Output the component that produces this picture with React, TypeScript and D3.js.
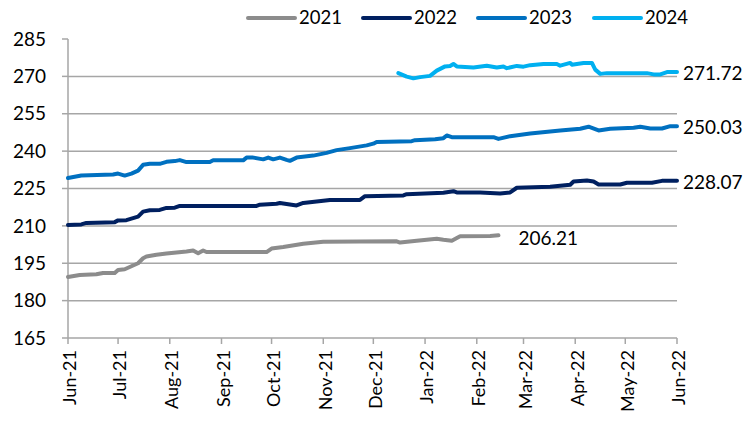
import React from "react";
import * as d3 from "d3";

const seriesNames = ["2021", "2022", "2023", "2024"];
const seriesColors = ["#8c8c8c", "#002060", "#0070c0", "#00b0f0"];

const s2021: [string, number][] = [
  ["2021-06-01", 189.5], ["2021-06-08", 190.3], ["2021-06-18", 190.6], ["2021-06-22", 191.1],
  ["2021-06-29", 191.1], ["2021-07-01", 192.3], ["2021-07-05", 192.6], ["2021-07-09", 193.8],
  ["2021-07-13", 195.0], ["2021-07-16", 197.0], ["2021-07-18", 197.7], ["2021-07-24", 198.4],
  ["2021-07-30", 198.9], ["2021-08-11", 199.7], ["2021-08-15", 200.1], ["2021-08-18", 199.0],
  ["2021-08-21", 200.1], ["2021-08-23", 199.5], ["2021-09-28", 199.5], ["2021-10-01", 200.9],
  ["2021-10-08", 201.5], ["2021-10-20", 202.8], ["2021-11-01", 203.6], ["2021-12-15", 203.8],
  ["2021-12-17", 203.3], ["2021-12-27", 204.0], ["2022-01-08", 204.8], ["2022-01-12", 204.4],
  ["2022-01-17", 204.0], ["2022-01-22", 205.8], ["2022-02-09", 205.9], ["2022-02-14", 206.21],
];

const s2022: [string, number][] = [
  ["2021-06-01", 210.4], ["2021-06-09", 210.6], ["2021-06-12", 211.2], ["2021-06-29", 211.5],
  ["2021-07-01", 212.2], ["2021-07-06", 212.3], ["2021-07-09", 212.9], ["2021-07-13", 213.7],
  ["2021-07-16", 215.7], ["2021-07-20", 216.3], ["2021-07-26", 216.4], ["2021-07-30", 217.2],
  ["2021-08-04", 217.3], ["2021-08-07", 218.0], ["2021-09-22", 218.0], ["2021-09-24", 218.5],
  ["2021-10-04", 218.9], ["2021-10-06", 219.2], ["2021-10-12", 218.6], ["2021-10-16", 218.2],
  ["2021-10-20", 219.2], ["2021-11-05", 220.4], ["2021-11-23", 220.4], ["2021-11-26", 221.9],
  ["2021-12-19", 222.2], ["2021-12-21", 222.7], ["2022-01-12", 223.3], ["2022-01-18", 223.9],
  ["2022-01-20", 223.4], ["2022-02-03", 223.4], ["2022-02-15", 223.0], ["2022-02-21", 223.4],
  ["2022-02-25", 225.3], ["2022-03-17", 225.7], ["2022-03-23", 226.1], ["2022-03-29", 226.5],
  ["2022-03-31", 227.8], ["2022-04-08", 228.2], ["2022-04-12", 227.8], ["2022-04-15", 226.6],
  ["2022-04-28", 226.6], ["2022-05-02", 227.3], ["2022-05-17", 227.3], ["2022-05-23", 228.07],
  ["2022-06-01", 228.07],
];

const s2023: [string, number][] = [
  ["2021-06-01", 229.2], ["2021-06-09", 230.2], ["2021-06-28", 230.6], ["2021-07-01", 231.0],
  ["2021-07-05", 230.2], ["2021-07-09", 231.0], ["2021-07-13", 232.2], ["2021-07-16", 234.5],
  ["2021-07-20", 234.9], ["2021-07-26", 234.9], ["2021-07-30", 235.7], ["2021-08-04", 236.0],
  ["2021-08-07", 236.4], ["2021-08-11", 235.6], ["2021-08-25", 235.6], ["2021-08-27", 236.3],
  ["2021-09-14", 236.3], ["2021-09-16", 237.4], ["2021-09-20", 237.4], ["2021-09-26", 236.7],
  ["2021-09-29", 237.4], ["2021-10-02", 236.7], ["2021-10-06", 237.4], ["2021-10-10", 236.5],
  ["2021-10-12", 236.1], ["2021-10-16", 237.4], ["2021-10-26", 238.2], ["2021-11-03", 239.3],
  ["2021-11-09", 240.4], ["2021-11-17", 241.2], ["2021-11-27", 242.3], ["2021-12-01", 243.0],
  ["2021-12-03", 243.7], ["2021-12-24", 244.0], ["2021-12-26", 244.4], ["2022-01-07", 244.8],
  ["2022-01-12", 245.2], ["2022-01-14", 246.3], ["2022-01-17", 245.6], ["2022-02-11", 245.6],
  ["2022-02-14", 244.9], ["2022-02-21", 246.0], ["2022-03-05", 247.1], ["2022-03-23", 248.3],
  ["2022-04-04", 249.0], ["2022-04-09", 249.8], ["2022-04-15", 248.3], ["2022-04-22", 249.0],
  ["2022-05-06", 249.4], ["2022-05-10", 249.8], ["2022-05-16", 249.1], ["2022-05-23", 249.1],
  ["2022-05-28", 250.03], ["2022-06-01", 250.03],
];

const s2024: [string, number][] = [
  ["2021-12-16", 271.3], ["2021-12-21", 269.9], ["2021-12-25", 269.2], ["2021-12-29", 269.7],
  ["2022-01-04", 270.2], ["2022-01-08", 272.3], ["2022-01-13", 274.0], ["2022-01-16", 274.2],
  ["2022-01-18", 275.0], ["2022-01-20", 274.0], ["2022-01-30", 273.6], ["2022-02-07", 274.3],
  ["2022-02-13", 273.6], ["2022-02-17", 274.0], ["2022-02-19", 273.3], ["2022-02-25", 274.2],
  ["2022-03-01", 273.9], ["2022-03-05", 274.5], ["2022-03-13", 275.0], ["2022-03-21", 275.0],
  ["2022-03-23", 274.3], ["2022-03-29", 275.4], ["2022-03-30", 274.7], ["2022-04-06", 275.4],
  ["2022-04-11", 275.4], ["2022-04-13", 272.7], ["2022-04-16", 271.0], ["2022-04-20", 271.3],
  ["2022-05-14", 271.3], ["2022-05-18", 270.8], ["2022-05-22", 270.8], ["2022-05-26", 271.72],
  ["2022-06-01", 271.72],
];

const allSeries = [s2021, s2022, s2023, s2024];
const endLabels = ["206.21", "228.07", "250.03", "271.72"];

const yTicks = [165, 180, 195, 210, 225, 240, 255, 270, 285];
const xTickDates = [
  "2021-06-01", "2021-07-01", "2021-08-01", "2021-09-01", "2021-10-01", "2021-11-01",
  "2021-12-01", "2022-01-01", "2022-02-01", "2022-03-01", "2022-04-01", "2022-05-01", "2022-06-01",
];

const W = 753;
const H = 422;
const FONT = "Lato, 'Open Sans', 'DejaVu Sans', sans-serif";

export default function App() {
  const parse = d3.utcParse("%Y-%m-%d");
  const x = d3
    .scaleUtc()
    .domain([parse("2021-06-01")!, parse("2022-06-01")!])
    .range([68, 677]);
  const y = d3.scaleLinear().domain([165, 285]).range([338, 39]);
  const fmt = d3.utcFormat("%b-%y");

  const line = d3
    .line<[string, number]>()
    .x((d) => x(parse(d[0])!))
    .y((d) => y(d[1]));

  const legendX = [248, 363, 478, 594];

  return (
    <svg
      width={W}
      height={H}
      style={{ position: "absolute", left: 0, top: 0, background: "#fff" }}
      fontFamily={FONT}
    >
      {yTicks
        .filter((t) => t !== 165 && t !== 285)
        .map((t) => (
          <line key={"g" + t} x1={68} x2={677} y1={y(t)} y2={y(t)} stroke="#a6a6a6" strokeWidth={1.5} />
        ))}
      <line x1={68} x2={68} y1={y(285)} y2={y(165)} stroke="#a6a6a6" strokeWidth={1.5} />
      {yTicks.map((t) => (
        <g key={"yt" + t}>
          <line x1={62} x2={68} y1={y(t)} y2={y(t)} stroke="#a6a6a6" strokeWidth={1.5} />
          <text x={46} y={y(t)} dy="0.35em" textAnchor="end" fontSize={19} fill="#000">
            {t}
          </text>
        </g>
      ))}
      <line x1={68} x2={677} y1={y(165)} y2={y(165)} stroke="#a6a6a6" strokeWidth={1.5} />
      {xTickDates.map((ds) => {
        const d = parse(ds)!;
        const xx = x(d);
        return (
          <g key={"xt" + ds}>
            <line x1={xx} x2={xx} y1={338} y2={344} stroke="#a6a6a6" strokeWidth={1.5} />
            <text
              transform={`translate(${xx + 2},350) rotate(-90)`}
              dy="0.35em"
              textAnchor="end"
              fontSize={18}
              fill="#000"
            >
              {fmt(d)}
            </text>
          </g>
        );
      })}
      {allSeries.map((s, i) => (
        <path
          key={"s" + i}
          d={line(s) || ""}
          fill="none"
          stroke={seriesColors[i]}
          strokeWidth={4}
          strokeLinejoin="round"
          strokeLinecap="round"
        />
      ))}
      {allSeries.map((s, i) => {
        const last = s[s.length - 1];
        const isFirst = i === 0;
        return (
          <text
            key={"el" + i}
            x={isFirst ? x(parse(last[0])!) + 20 : 683}
            y={y(last[1]) + (isFirst ? 3 : 1)}
            dy="0.35em"
            fontSize={19}
            fill="#000"
          >
            {endLabels[i]}
          </text>
        );
      })}
      {seriesNames.map((n, i) => (
        <g key={"lg" + n}>
          <line
            x1={legendX[i]}
            x2={legendX[i] + 47}
            y1={18}
            y2={18}
            stroke={seriesColors[i]}
            strokeWidth={4}
            strokeLinecap="round"
          />
          <text x={legendX[i] + 51} y={18} dy="0.35em" fontSize={18.5} fill="#000">
            {n}
          </text>
        </g>
      ))}
    </svg>
  );
}
